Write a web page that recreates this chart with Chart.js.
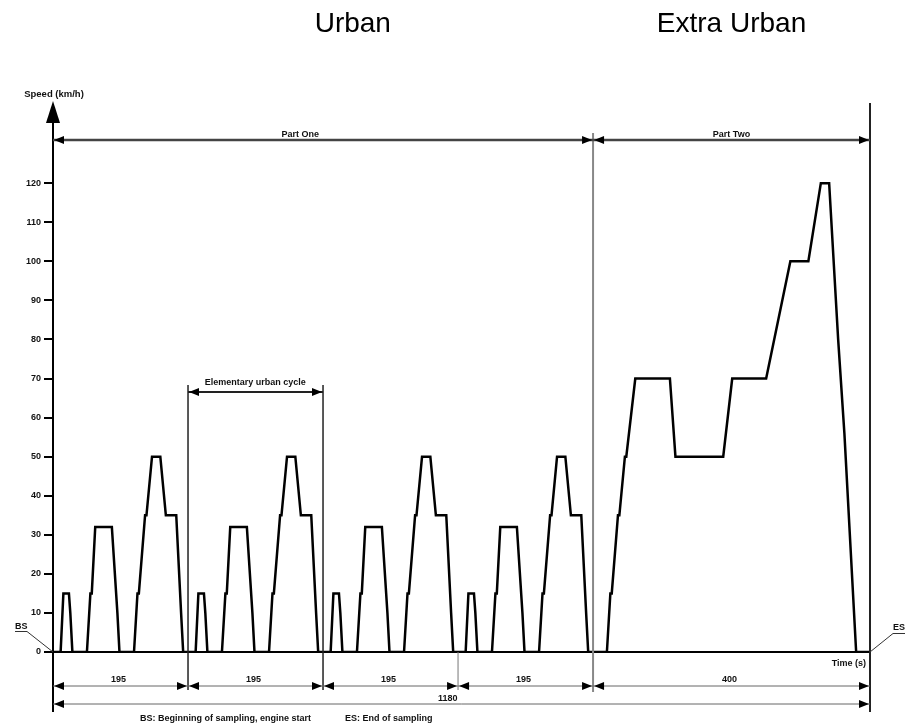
<!DOCTYPE html>
<html>
<head>
<meta charset="utf-8">
<script src="https://cdn.jsdelivr.net/npm/chart.js@4/dist/chart.umd.min.js"></script>
<style>
  body { margin: 0; background: #fff; }
  canvas { display: block; }
</style>
</head>
<body>
<canvas id="cycleChart" width="905" height="724"></canvas>
<script>
// NEDC: four elementary urban cycles (Part One) + extra urban cycle (Part Two)
const urbanTimes = [
  0, 11, 15, 23, 25, 28, 49, 54, 56, 61, 85, 93, 96, 117, 122, 124, 133, 135, 143, 155, 163, 176, 178, 185, 188, 195,
  206, 210, 218, 220, 223, 244, 249, 251, 256, 280, 288, 291, 312, 317, 319, 328, 330, 338, 350, 358, 371, 373, 380, 383, 390,
  401, 405, 413, 415, 418, 439, 444, 446, 451, 475, 483, 486, 507, 512, 514, 523, 525, 533, 545, 553, 566, 568, 575, 578, 585,
  596, 600, 608, 610, 613, 634, 639, 641, 646, 670, 678, 681, 702, 707, 709, 718, 720, 728, 740, 748, 761, 763, 770, 773, 780
]
const urbanSpeeds = [
  0, 0, 15, 15, 10, 0, 0, 15, 15, 32, 32, 10, 0, 0, 15, 15, 35, 35, 50, 50, 35, 35, 35, 10, 0, 0,
  0, 15, 15, 10, 0, 0, 15, 15, 32, 32, 10, 0, 0, 15, 15, 35, 35, 50, 50, 35, 35, 35, 10, 0, 0,
  0, 15, 15, 10, 0, 0, 15, 15, 32, 32, 10, 0, 0, 15, 15, 35, 35, 50, 50, 35, 35, 35, 10, 0, 0,
  0, 15, 15, 10, 0, 0, 15, 15, 32, 32, 10, 0, 0, 15, 15, 35, 35, 50, 50, 35, 35, 35, 10, 0, 0
]
const extraTimes = [800, 805, 807, 816, 818, 826, 828, 841, 891, 899, 968, 981, 1030, 1065, 1091, 1109, 1121, 1134, 1143, 1160, 1180]
const extraSpeeds = [0, 15, 15, 35, 35, 50, 50, 70, 70, 50, 50, 70, 70, 100, 100, 120, 120, 80, 56, 0, 0]

const speedTicks = [0, 10, 20, 30, 40, 50, 60, 70, 80, 90, 100, 110, 120]
const segmentBounds = [0, 195, 390, 585, 780, 1180]
const segmentLabels = ["195", "195", "195", "195", "400"]

const times = urbanTimes.concat(extraTimes)
const speeds = urbanSpeeds.concat(extraSpeeds)
const points = times.map((t, i) => ({ x: t, y: speeds[i] }))

const FONT = "Arial, 'Liberation Sans', sans-serif"

function arrowHead(ctx, tipX, y, dir) {
  // dir -1: points left, 1: points right
  ctx.beginPath()
  ctx.moveTo(tipX, y)
  ctx.lineTo(tipX - dir * 10, y - 4)
  ctx.lineTo(tipX - dir * 10, y + 4)
  ctx.closePath()
  ctx.fill()
}

function dimLine(ctx, x1, x2, y, color, width) {
  ctx.strokeStyle = color
  ctx.fillStyle = "#000"
  ctx.lineWidth = width
  ctx.beginPath()
  ctx.moveTo(x1, y)
  ctx.lineTo(x2, y)
  ctx.stroke()
  arrowHead(ctx, x1 + 1, y, -1)
  arrowHead(ctx, x2 - 1, y, 1)
}

function vLine(ctx, x, y1, y2, color, width) {
  ctx.strokeStyle = color
  ctx.lineWidth = width
  ctx.beginPath()
  ctx.moveTo(x, y1)
  ctx.lineTo(x, y2)
  ctx.stroke()
}

const drawingPlugin = {
  id: "drawing",
  afterDraw(chart) {
    const ctx = chart.ctx
    const xs = chart.scales.x
    const px = t => xs.getPixelForValue(t)
    const y0 = chart.chartArea.bottom
    ctx.save()

    // headings
    ctx.fillStyle = "#000"
    ctx.textAlign = "center"
    ctx.textBaseline = "alphabetic"
    ctx.font = "28px " + FONT
    ctx.fillText("Urban", px(433), 32)
    ctx.fillText("Extra Urban", px(980), 32)

    // y axis extension + arrow
    vLine(ctx, px(0), 118, 712, "#000", 2)
    ctx.fillStyle = "#000"
    ctx.beginPath()
    ctx.moveTo(px(0), 101)
    ctx.lineTo(px(0) - 7, 123)
    ctx.lineTo(px(0) + 7, 123)
    ctx.closePath()
    ctx.fill()
    ctx.font = "bold 9.5px " + FONT
    ctx.fillStyle = "#111"
    ctx.fillText("Speed (km/h)", px(0) + 1, 97)

    // vertical boundaries
    vLine(ctx, px(1180), 103, 712, "#222", 2)
    vLine(ctx, px(780), 133, 692, "#888", 2)
    vLine(ctx, px(195), 385, 690, "#222", 1.5)
    vLine(ctx, px(390), 385, 690, "#222", 1.5)
    vLine(ctx, px(585), y0, 690, "#777", 1)

    // part arrows
    dimLine(ctx, px(0), px(780), 140, "#444", 2.5)
    dimLine(ctx, px(780), px(1180), 140, "#444", 2.5)
    ctx.fillStyle = "#111"
    ctx.font = "bold 9px " + FONT
    ctx.fillText("Part One", px(357), 137)
    ctx.fillText("Part Two", px(980), 137)

    // elementary urban cycle
    dimLine(ctx, px(195), px(390), 392, "#222", 2)
    ctx.fillStyle = "#111"
    ctx.fillText("Elementary urban cycle", px(292), 385)

    // segment dimensions
    for (let i = 0; i < segmentLabels.length; i++) {
      const a = px(segmentBounds[i]), b = px(segmentBounds[i + 1])
      dimLine(ctx, a, b, 686, "#666", 1)
      ctx.fillStyle = "#111"
      ctx.fillText(segmentLabels[i], (a + b) / 2 - 2, 682)
    }
    dimLine(ctx, px(0), px(1180), 704, "#666", 1)
    ctx.fillStyle = "#111"
    ctx.fillText("1180", px(570), 701)

    // time label
    ctx.textAlign = "right"
    ctx.fillText("Time (s)", px(1180) - 4, 666)

    // BS / ES
    ctx.textAlign = "left"
    ctx.fillText("BS", 15, 629)
    ctx.fillText("ES", 893, 630)
    ctx.strokeStyle = "#333"
    ctx.lineWidth = 1
    ctx.beginPath()
    ctx.moveTo(15, 631.5); ctx.lineTo(27, 631.5); ctx.lineTo(px(0), y0)
    ctx.moveTo(905, 633.5); ctx.lineTo(893, 633.5); ctx.lineTo(px(1180), y0)
    ctx.stroke()

    ctx.fillText("BS: Beginning of sampling, engine start", 140, 721)
    ctx.fillText("ES: End of sampling", 345, 721)

    ctx.restore()
  }
}

new Chart(document.getElementById("cycleChart"), {
  type: "line",
  data: {
    datasets: [{
      data: points,
      borderColor: "#000",
      borderWidth: 2.5,
      pointRadius: 0,
      tension: 0,
      fill: false
    }]
  },
  options: {
    responsive: false,
    animation: false,
    events: [],
    layout: { padding: { top: 105, right: 35, left: 0, bottom: 0 } },
    plugins: {
      legend: { display: false },
      tooltip: { enabled: false }
    },
    scales: {
      x: {
        type: "linear",
        min: 0,
        max: 1180,
        ticks: { display: false },
        grid: { display: false },
        border: { display: true, color: "#000", width: 2 },
        afterFit(scale) { scale.height = 72 }
      },
      y: {
        min: 0,
        max: 140,
        afterBuildTicks(scale) { scale.ticks = speedTicks.map(v => ({ value: v })) },
        ticks: {
          color: "#111",
          padding: 3,
          font: { family: FONT, size: 9, weight: "bold" }
        },
        grid: {
          display: true,
          drawOnChartArea: false,
          drawTicks: true,
          tickLength: 9,
          color: "#000",
          lineWidth: 2
        },
        border: { display: true, color: "#000", width: 2 },
        afterFit(scale) { scale.width = 53 }
      }
    }
  },
  plugins: [drawingPlugin]
})
</script>
</body>
</html>
